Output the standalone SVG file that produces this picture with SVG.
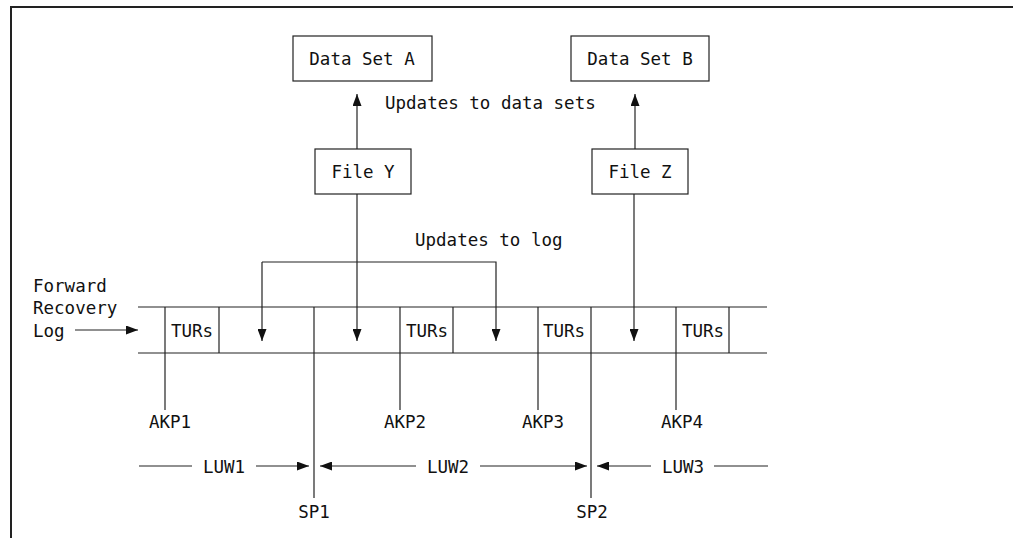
<svg xmlns="http://www.w3.org/2000/svg" width="1013" height="538" viewBox="0 0 1013 538">
<style>
  text { font-family: "DejaVu Sans Mono", "Liberation Mono", monospace; font-size: 17.5px; fill: #111; }
  .c { text-anchor: middle; }
  .box { fill: #fff; stroke: #222; stroke-width: 1.2; }
  .ln { stroke: #222; stroke-width: 1.2; fill: none; }
  .arr { stroke: #222; stroke-width: 1.2; fill: none; marker-end: url(#ah); }
</style>
<defs>
  <marker id="ah" viewBox="0 0 12 9" refX="12" refY="4.5" markerWidth="12" markerHeight="9" markerUnits="userSpaceOnUse" orient="auto">
    <path d="M0,0 L12,4.5 L0,9 z" fill="#111"/>
  </marker>
</defs>
<rect width="1013" height="538" fill="#fff"/>
<g id="frame">
  <path d="M11,538 V7 H1013" stroke="#222" stroke-width="2" fill="none"/>
</g>
<g id="dsA">
  <rect class="box" x="293" y="36" width="139" height="45"/>
  <text class="c" x="362" y="65">Data Set A</text>
</g>
<g id="dsB">
  <rect class="box" x="571" y="36" width="138" height="45"/>
  <text class="c" x="640" y="65">Data Set B</text>
</g>
<g id="fileY">
  <rect class="box" x="315" y="149" width="96" height="45"/>
  <text class="c" x="363" y="178">File Y</text>
</g>
<g id="fileZ">
  <rect class="box" x="592" y="149" width="96" height="45"/>
  <text class="c" x="640" y="178">File Z</text>
</g>
<g id="log">
  <line class="ln" x1="138" y1="307" x2="767" y2="307"/>
  <line class="ln" x1="138" y1="353" x2="767" y2="353"/>
  <line class="ln" x1="165" y1="307" x2="165" y2="410"/>
  <line class="ln" x1="219" y1="307" x2="219" y2="353"/>
  <line class="ln" x1="314" y1="307" x2="314" y2="498"/>
  <line class="ln" x1="400" y1="307" x2="400" y2="410"/>
  <line class="ln" x1="453" y1="307" x2="453" y2="353"/>
  <line class="ln" x1="538" y1="307" x2="538" y2="410"/>
  <line class="ln" x1="591" y1="307" x2="591" y2="498"/>
  <line class="ln" x1="676" y1="307" x2="676" y2="410"/>
  <line class="ln" x1="729" y1="307" x2="729" y2="353"/>
  <text class="c" x="192" y="337">TURs</text>
  <text class="c" x="427" y="337">TURs</text>
  <text class="c" x="564" y="337">TURs</text>
  <text class="c" x="703" y="337">TURs</text>
</g>
<g id="labels">
  <text x="385" y="109">Updates to data sets</text>
  <text x="415" y="246">Updates to log</text>
  <text x="33" y="292">Forward</text>
  <text x="33" y="314">Recovery</text>
  <text x="33" y="337">Log</text>
  <text class="c" x="170" y="428">AKP1</text>
  <text class="c" x="405" y="428">AKP2</text>
  <text class="c" x="543" y="428">AKP3</text>
  <text class="c" x="682" y="428">AKP4</text>
  <text class="c" x="314" y="518">SP1</text>
  <text class="c" x="592" y="518">SP2</text>
  <text class="c" x="224" y="473">LUW1</text>
  <text class="c" x="448" y="473">LUW2</text>
  <text class="c" x="683" y="473">LUW3</text>
</g>
<g id="connectors">
  <line class="arr" x1="357" y1="149" x2="357" y2="94"/>
  <line class="arr" x1="635" y1="149" x2="635" y2="94"/>
  <line class="arr" x1="357" y1="194" x2="357" y2="341"/>
  <line class="arr" x1="634" y1="194" x2="634" y2="341"/>
  <path class="arr" d="M262,262 H496 V341"/>
  <path class="arr" d="M262,262 V341"/>
  <line class="arr" x1="75" y1="330" x2="138" y2="330"/>
  <line class="ln" x1="139" y1="466" x2="192" y2="466"/>
  <line class="arr" x1="256" y1="466" x2="309" y2="466"/>
  <line class="arr" x1="416" y1="466" x2="320" y2="466"/>
  <line class="arr" x1="480" y1="466" x2="587" y2="466"/>
  <line class="arr" x1="651" y1="466" x2="597" y2="466"/>
  <line class="ln" x1="714" y1="466" x2="768" y2="466"/>
</g>
</svg>
